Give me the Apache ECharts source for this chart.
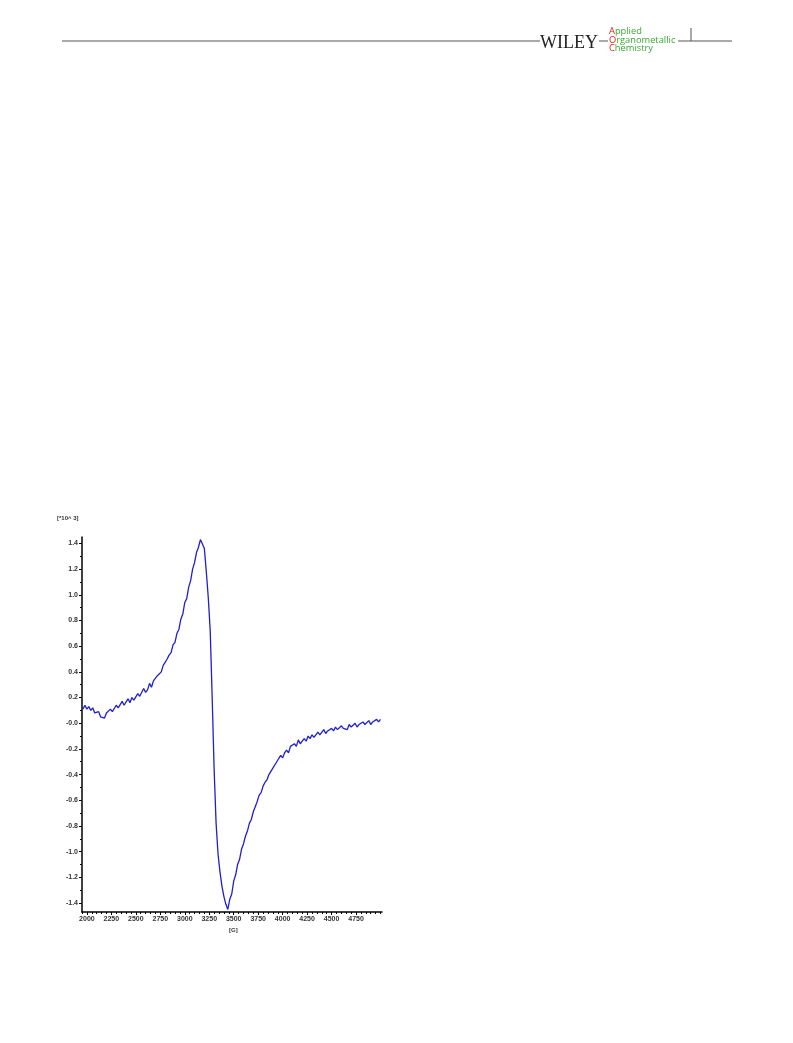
<!DOCTYPE html>
<html>
<head>
<meta charset="utf-8">
<script src="https://cdn.jsdelivr.net/npm/echarts@6/dist/echarts.min.js"></script>
<style>
html,body{margin:0;padding:0;background:#fff;}
#c{width:793px;height:1043px;}
</style>
</head>
<body>
<div id="c"></div>
<script>
// Magnetic field grid [G]: first sample and spacing
const fieldStart = 1960;
const fieldStep = 20;
// EPR signal intensity [*10^3]
const intensity = [
 0.11, 0.14, 0.11, 0.13, 0.10, 0.12, 0.08, 0.07, 0.09, 0.05,
 0.06, 0.04, 0.08, 0.07, 0.11, 0.09, 0.10, 0.14, 0.12, 0.13,
 0.17, 0.14, 0.15, 0.19, 0.16, 0.20, 0.18, 0.19, 0.23, 0.21,
 0.22, 0.27, 0.24, 0.26, 0.31, 0.28, 0.33, 0.32, 0.37, 0.38,
 0.40, 0.45, 0.45, 0.50, 0.53, 0.55, 0.61, 0.63, 0.70, 0.73,
 0.81, 0.85, 0.94, 0.97, 1.06, 1.11, 1.20, 1.25, 1.33, 1.37,
 1.43, 1.44,
 1.36, 1.18, 0.98, 0.72, 0.20, -0.36, -0.78, -1.02, -1.16, -1.27,
 -1.35, -1.41,
 -1.45, -1.37, -1.33, -1.23, -1.18, -1.10, -1.06, -0.98, -0.94, -0.88,
 -0.84, -0.78, -0.75, -0.69, -0.65, -0.61, -0.56, -0.54, -0.49, -0.46,
 -0.44, -0.40, -0.39, -0.35, -0.34, -0.30, -0.30, -0.25, -0.27, -0.23,
 -0.21, -0.23, -0.18, -0.19, -0.16, -0.18, -0.13, -0.16, -0.14, -0.12,
 -0.14, -0.10, -0.12, -0.09, -0.11, -0.10, -0.07, -0.09, -0.08, -0.05,
 -0.08, -0.06, -0.07, -0.04, -0.06, -0.03, -0.05, -0.05, -0.02, -0.04,
 -0.03, -0.05, -0.01, -0.03, -0.02, 0.00, -0.03, -0.01, -0.02, 0.01,
 -0.01, 0.00, 0.02, -0.01, 0.01, 0.00, 0.03, 0.01, 0.03
];
// Tick labels
const xTickLabels = [2000, 2250, 2500, 2750, 3000, 3250, 3500, 3750, 4000, 4250, 4500, 4750];
const xMinorTicks = [1950,2000,2050,2100,2150,2200,2250,2300,2350,2400,2450,2500,2550,2600,2650,2700,2750,2800,2850,2900,2950,3000,3050,3100,3150,3200,3250,3300,3350,3400,3450,3500,3550,3600,3650,3700,3750,3800,3850,3900,3950,4000,4050,4100,4150,4200,4250,4300,4350,4400,4450,4500,4550,4600,4650,4700,4750,4800,4850,4900,4950,5000];
const yTickLabels = [-1.4, -1.2, -1.0, -0.8, -0.6, -0.4, -0.2, 0, 0.2, 0.4, 0.6, 0.8, 1.0, 1.2, 1.4];
const yMinorTicks = [-1.4,-1.3,-1.2,-1.1,-1.0,-0.9,-0.8,-0.7,-0.6,-0.5,-0.4,-0.3,-0.2,-0.1,0,0.1,0.2,0.3,0.4,0.5,0.6,0.7,0.8,0.9,1.0,1.1,1.2,1.3,1.4];

const data = intensity.map((v, i) => [fieldStart + i * fieldStep, v]);

const chart = echarts.init(document.getElementById('c'), null, {renderer: 'canvas'});
const lblFont = {fontFamily: 'Liberation Sans, Arial, sans-serif', fontSize: 7, color: '#333', fontWeight: 'bold'};
const xMin = 1950, xMax = 5015, yMin = -1.47, yMax = 1.45;
const aocFont = '500 9.3px "Open Sans", "Noto Sans", sans-serif';

chart.setOption({
  animation: false,
  grid: {left: 82, right: 411, top: 537, bottom: 131, containLabel: false},
  xAxis: [{
    type: 'value', min: xMin, max: xMax, position: 'bottom',
    axisLine: {show: true, onZero: false, lineStyle: {color: '#000', width: 1.5}},
    axisTick: {show: true, inside: false, length: 3, customValues: xTickLabels, lineStyle: {color: '#000', width: 1}},
    axisLabel: Object.assign({show: true, margin: 4, customValues: xTickLabels, formatter: v => String(v)}, lblFont),
    splitLine: {show: false}
  }, {
    type: 'value', min: xMin, max: xMax, position: 'bottom',
    axisLine: {show: false, onZero: false},
    axisTick: {show: true, inside: false, length: 2, customValues: xMinorTicks, lineStyle: {color: '#000', width: 1}},
    axisLabel: {show: false},
    splitLine: {show: false}
  }],
  yAxis: [{
    type: 'value', min: yMin, max: yMax, position: 'left',
    axisLine: {show: true, onZero: false, lineStyle: {color: '#000', width: 1.5}},
    axisTick: {show: true, inside: false, length: 3, customValues: yTickLabels, lineStyle: {color: '#000', width: 1}},
    axisLabel: Object.assign({show: true, margin: 4, customValues: yTickLabels,
      formatter: v => (Math.abs(v) < 1e-9 ? '-0.0' : Number(v).toFixed(1))}, lblFont),
    splitLine: {show: false}
  }, {
    type: 'value', min: yMin, max: yMax, position: 'left',
    axisLine: {show: false, onZero: false},
    axisTick: {show: true, inside: false, length: 2, customValues: yMinorTicks, lineStyle: {color: '#000', width: 1}},
    axisLabel: {show: false},
    splitLine: {show: false}
  }],
  series: [{
    type: 'line', data: data, xAxisIndex: 0, yAxisIndex: 0,
    showSymbol: false, symbol: 'none', smooth: false,
    lineStyle: {color: '#1f1fd0', width: 1.3}
  }],
  graphic: [
    // header rule
    {type: 'line', shape: {x1: 62, y1: 41, x2: 540, y2: 41}, style: {stroke: '#555', lineWidth: 1}},
    {type: 'text', left: 540, top: 34, style: {text: 'WILEY', font: '18px "Liberation Serif", "DejaVu Serif", serif', fill: '#222'}},
    {type: 'line', shape: {x1: 599, y1: 41, x2: 608, y2: 41}, style: {stroke: '#555', lineWidth: 1}},
    {type: 'text', left: 609, top: 27, style: {rich: {r: {fill: '#e3221b', font: aocFont}, g: {fill: '#38a935', font: aocFont}}, text: '{r|A}{g|pplied}'}},
    {type: 'text', left: 609, top: 35.5, style: {rich: {r: {fill: '#e3221b', font: aocFont}, g: {fill: '#38a935', font: aocFont}}, text: '{r|O}{g|rganometallic}'}},
    {type: 'text', left: 609, top: 44, style: {rich: {r: {fill: '#e3221b', font: aocFont}, g: {fill: '#38a935', font: aocFont}}, text: '{r|C}{g|hemistry}'}},
    {type: 'line', shape: {x1: 678, y1: 41, x2: 732, y2: 41}, style: {stroke: '#555', lineWidth: 1}},
    {type: 'line', shape: {x1: 691, y1: 28, x2: 691, y2: 41}, style: {stroke: '#555', lineWidth: 1}},
    // axis names
    {type: 'text', left: 57, top: 515, style: {text: '[*10^ 3]', font: 'bold 6px "Liberation Sans", Arial, sans-serif', fill: '#333'}},
    {type: 'text', left: 229, top: 927, style: {text: '[G]', font: 'bold 6px "Liberation Sans", Arial, sans-serif', fill: '#333'}}
  ]
});
</script>
</body>
</html>
